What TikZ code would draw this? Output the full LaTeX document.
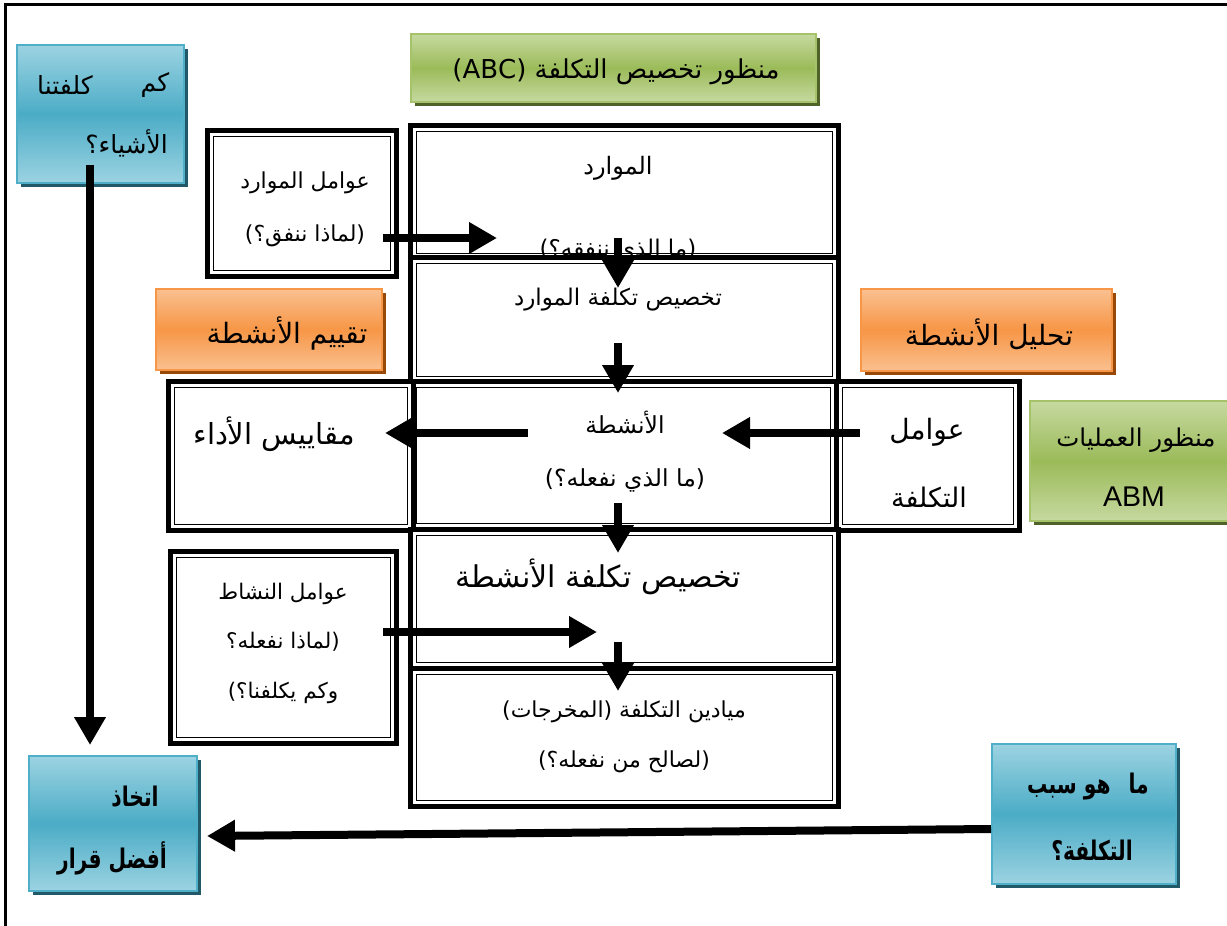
\documentclass[tikz,border=0pt]{standalone}
\usepackage{fontspec}
\usepackage{graphicx}
\setmainfont{Liberation Sans}
\newfontfamily\arabicfont[Script=Arabic]{DejaVu Sans}
\TeXXeTstate=1
\usetikzlibrary{arrows.meta,shadows}
\newcommand\AR[1]{{\arabicfont\beginR #1\endR}}
\newcommand\placebox[6]{\node[#1, minimum width={#5-#3}, minimum height={#6-#4}] (#2) at ({(#3+#5)/2},{(#4+#6)/2}) {};}
\newcommand\dblbox[5]{\placebox{dblout}{#1}{#2}{#3}{#4}{#5}
  \draw[line width=1pt] ([shift={(6pt,-6pt)}]#1.north west) rectangle ([shift={(-6pt,6pt)}]#1.south east);}
\definecolor{bluelt}{HTML}{9CD3E2}
\definecolor{bluedk}{HTML}{4BACC6}
\definecolor{bluebd}{HTML}{4FAFC8}
\definecolor{blueshd}{HTML}{215968}
\definecolor{greenlt}{HTML}{C6D9A0}
\definecolor{greendk}{HTML}{9BBB59}
\definecolor{greenbd}{HTML}{A6C36C}
\definecolor{greenshd}{HTML}{4F6228}
\definecolor{orangelt}{HTML}{FAC090}
\definecolor{orangedk}{HTML}{F79646}
\definecolor{orangebd}{HTML}{F79646}
\definecolor{orangeshd}{HTML}{984807}
\tikzset{
  dblout/.style={draw, line width=5pt, fill=white, inner sep=0pt, outer sep=0pt},
  bluebox/.style={draw=bluebd, line width=2.5pt, top color=bluelt, bottom color=bluelt, middle color=bluedk, inner sep=0pt,
    drop shadow={shadow xshift=4pt, shadow yshift=-4pt, fill=blueshd, opacity=1}},
  greenbox/.style={draw=greenbd, line width=2.5pt, top color=greenlt, bottom color=greenlt, middle color=greendk, inner sep=0pt,
    drop shadow={shadow xshift=4pt, shadow yshift=-4pt, fill=greenshd, opacity=1}},
  orangebox/.style={draw=orangebd, line width=2.5pt, top color=orangelt, bottom color=orangelt, middle color=orangedk, inner sep=0pt,
    drop shadow={shadow xshift=4pt, shadow yshift=-4pt, fill=orangeshd, opacity=1}},
  ts/.style={inner sep=0pt, font=\fontsize{#1}{#1}\selectfont},
  tbold/.style={inner sep=0pt, font=\fontsize{#1}{#1}\selectfont\bfseries},
  bigarr/.style={line width=8pt, -{Triangle[length=28pt,width=30pt]}},
}
\newcommand\cond[1]{\scalebox{0.75}[1]{#1}}
\begin{document}
\begin{tikzpicture}[x=1pt,y=-1pt]
\useasboundingbox (0,0) rectangle (1227,926);
% page frame
\draw[line width=3pt] (5,926) -- (5,4) -- (1227,4);

% main column
\dblbox{b1}{410}{125}{838}{259}
\node[ts=24] (tb1a) at (618,168) {\AR{الموارد}};
\node[ts=23] (tb1b) at (618,251) {\AR{(ما الذي ننفقه؟)}};
\dblbox{b2}{410}{257}{838}{382}
\node[ts=23] (tb2) at (618,300) {\AR{تخصيص تكلفة الموارد}};
\dblbox{m3}{410}{381}{836}{529}
\dblbox{l3}{168}{381}{413}{530}
\dblbox{r3}{836}{381}{1019}{530}
\node[ts=23.5] (tm3a) at (625,422) {\AR{الأنشطة}};
\node[ts=23.5] (tm3b) at (625,480) {\AR{(ما الذي نفعله؟)}};
\node[ts=29] (tl3) at (274,434) {\AR{مقاييس الأداء}};
\node[ts=28] (tr3a) at (927,432) {\AR{عوامل}};
\node[ts=27] (tr3b) at (929,497) {\AR{التكلفة}};
\dblbox{b4}{410}{529}{838}{668}
\node[ts=30] (tb4) at (598,577) {\AR{تخصيص تكلفة الأنشطة}};
\dblbox{b5}{410}{668}{838}{806}
\node[ts=22] (tb5a) at (624,712) {\AR{ميادين التكلفة (المخرجات)}};
\node[ts=22] (tb5b) at (624,762) {\AR{(لصالح من نفعله؟)}};

% side double boxes
\dblbox{rd}{207}{130}{396}{276}
\node[ts=22] (trda) at (305,183) {\AR{عوامل الموارد}};
\node[ts=22] (trdb) at (305,236) {\AR{(لماذا ننفق؟)}};
\dblbox{ad}{170}{551}{396}{743}
\node[ts=21.5] (tada) at (283,594) {\AR{عوامل النشاط}};
\node[ts=21.5] (tadb) at (283,642) {\AR{(لماذا نفعله؟}};
\node[ts=21.5] (tadc) at (283,693) {\AR{وكم يكلفنا؟)}};

% coloured boxes
\placebox{greenbox}{g1}{411}{34}{816}{102}
\node[ts=26] (tg1) at (616,72) {\AR{منظور تخصيص التكلفة \beginL(ABC)\endL}};
\placebox{orangebox}{o1}{156}{289}{382}{370}
\node[ts=28] (to1) at (287,333) {\AR{تقييم الأنشطة}};
\placebox{orangebox}{o2}{861}{289}{1112}{371}
\node[ts=28] (to2) at (989,334) {\AR{تحليل الأنشطة}};
\placebox{greenbox}{g2}{1030}{401}{1232}{521}
\node[ts=24.5] (tg2a) at (1136,440) {\AR{منظور العمليات}};
\node[ts=28.5] (tg2b) at (1134,497) {ABM};
\placebox{bluebox}{q1}{17}{45}{184}{183}
\node[ts=25] (tq1a) at (155,85) {\AR{كم}};
\node[ts=25] (tq1b) at (65,85) {\AR{كلفتنا}};
\node[ts=25,anchor=east] (tq1c) at (168,143) {\AR{الأشياء؟}};
\placebox{bluebox}{bl}{29}{756}{197}{891}
\node[tbold=27] (tbla) at (135,797) {\cond{\AR{اتخاذ}}};
\node[tbold=27] (tblb) at (112,858) {\cond{\AR{أفضل قرار}}};
\placebox{bluebox}{br}{992}{744}{1176}{884}
\node[tbold=27] (tbra) at (1088,787) {\cond{\AR{ما\hspace{24pt}هو سبب}}};
\node[tbold=27] (tbrb) at (1092,850) {\cond{\AR{التكلفة؟}}};

% arrow end points
\coordinate (a1s) at (383,238); \coordinate (a1e) at (497,238);
\coordinate (a2s) at (618,238); \coordinate (a2e) at (618,288);
\coordinate (a3s) at (618,343); \coordinate (a3e) at (618,393);
\coordinate (a4s) at (528,433); \coordinate (a4e) at (385,433);
\coordinate (a5s) at (860,433); \coordinate (a5e) at (722,433);
\coordinate (a6s) at (618,503); \coordinate (a6e) at (618,553);
\coordinate (a7s) at (383,632); \coordinate (a7e) at (597,632);
\coordinate (a8s) at (618,642); \coordinate (a8e) at (618,691);
\coordinate (a9s) at (90,165);  \coordinate (a9e) at (90,745);
\coordinate (a10s) at (991,829); \coordinate (a10e) at (207,836);
\foreach \i in {1,...,10} \draw[bigarr] (a\i s) -- (a\i e);
\end{tikzpicture}
\end{document}
